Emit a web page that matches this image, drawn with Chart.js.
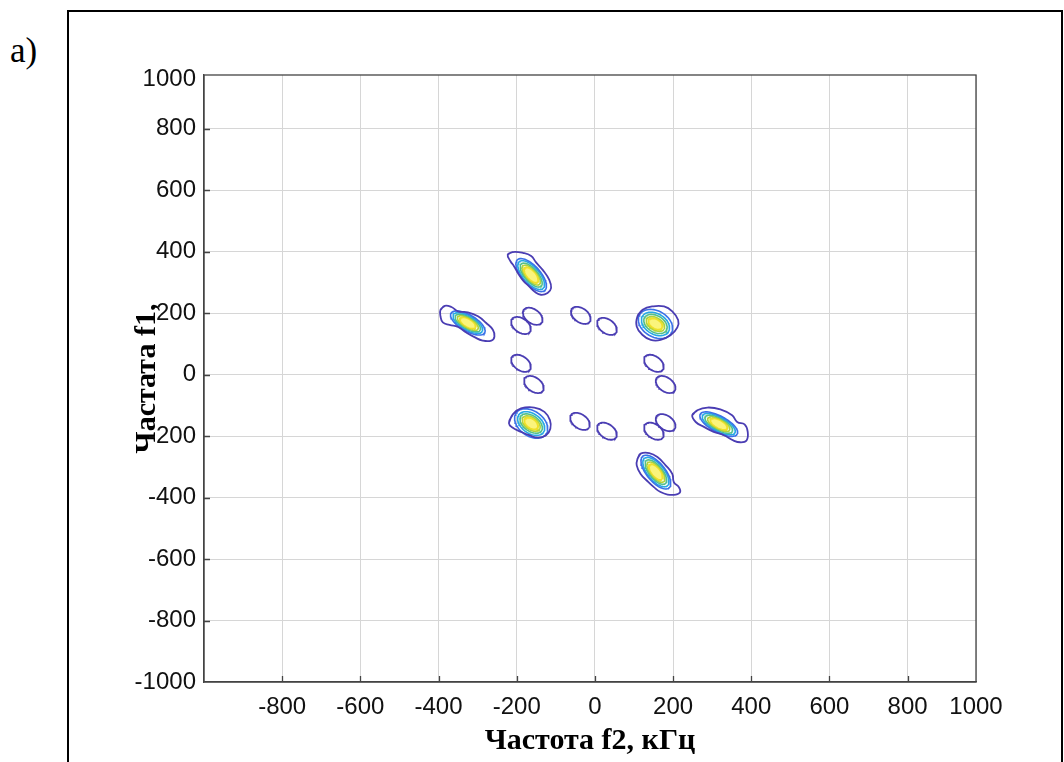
<!DOCTYPE html>
<html><head><meta charset="utf-8">
<script src="https://cdn.jsdelivr.net/npm/chart.js@4.4.1/dist/chart.umd.min.js"></script>
<style>
html,body{margin:0;padding:0;background:#fff;width:1064px;height:762px;overflow:hidden;}
#frame{position:absolute;left:67px;top:10px;width:996px;height:800px;border:2px solid #000;box-sizing:border-box;}
#lab{position:absolute;left:10px;top:33px;font:35px "Liberation Serif",serif;line-height:1;color:#000;}
#wrap{position:absolute;left:0;top:0;width:1064px;height:762px;}
</style></head><body>
<div id="frame"></div>
<div id="lab">a)</div>
<div id="wrap"><canvas id="c" width="1064" height="762"></canvas></div>
<script>
// ---- axes (kHz) ----
const xTicks = [-800,-600,-400,-200,0,200,400,600,800,975];
const xTickLabels = ['-800','-600','-400','-200','0','200','400','600','800','1000'];
const yTicks = [-1000,-800,-600,-400,-200,0,200,400,600,800,960];
const yTickLabels = ['-1000','-800','-600','-400','-200','0','200','400','600','800','1000'];
const xTitle = 'Частота f2, кГц';
const yTitle = 'Частата f1,';

// ---- outermost contour level, read as [f2, f1] vertices (kHz) ----
const outerLeft = [[-395,211],[-384,224],[-367,220],[-350,206],[-325,203],[-299,190],[-278,168],[-261,146],[-257,124],[-265,111],[-287,111],[-308,122],[-329,137],[-350,155],[-372,162],[-389,170],[-395,190]];
const outerTop = [[-223,391],[-210,399],[-184,396],[-163,386],[-151,366],[-133,340],[-117,309],[-112,282],[-121,266],[-138,260],[-153,269],[-169,288],[-184,307],[-197,331],[-207,353],[-216,369]];
const outerUpRight = [[109,190],[122,211],[147,222],[177,222],[198,206],[213,178],[211,154],[194,129],[168,113],[143,113],[122,129],[107,157]];
const outerLowLeft = [[-220,-157],[-210,-129],[-189,-110],[-155,-107],[-129,-121],[-115,-148],[-114,-176],[-125,-197],[-146,-205],[-168,-197],[-189,-186],[-210,-173]];
const outerRight = [[249,-132],[262,-116],[288,-107],[321,-113],[351,-132],[364,-154],[383,-162],[391,-186],[388,-214],[372,-220],[354,-214],[330,-197],[304,-186],[279,-170],[258,-154]];
const outerBottom = [[109,-274],[117,-257],[139,-255],[160,-268],[181,-295],[198,-323],[202,-350],[215,-366],[218,-382],[207,-390],[186,-390],[168,-382],[151,-366],[134,-346],[117,-323],[107,-295]];

// ---- small side-lobe loops (outer level): [f2c, f1c, majorTip dF2, dF1, minorTip dF2, dF1] ----
const smallLoops = [
  [-159,190,23.0,-20.6,-10.2,-18.7],[-189,160,23.0,-20.6,-10.2,-18.7],
  [-36,193,23.0,-20.6,-10.2,-18.7],[31,157,23.0,-20.6,-10.2,-18.7],
  [-189,37,23.0,-20.6,-10.2,-18.7],[-156,-32,23.0,-20.6,-10.2,-18.7],
  [151,37,23.0,-20.6,-10.2,-18.7],[181,-32,23.0,-20.6,-10.2,-18.7],
  [-38,-152,23.0,-20.6,-10.2,-18.7],[31,-184,23.0,-20.6,-10.2,-18.7],
  [151,-184,23.0,-20.6,-10.2,-18.7],[181,-156,23.0,-20.6,-10.2,-18.7]
];

// ---- inner contour levels of the six main peaks: [f2c, f1c, majorTip dF2, dF1, minorTip dF2, dF1] ----
const ring2 = [[-325,168,43.0,-31.8,-10.4,-22.9],[-163,324,35.0,-49.8,-17.4,-20.1],[155,165,40.6,-30.0,-16.5,-36.7],[-163,-159,38.3,-34.5,-18.1,-33.3],[317,-161,47.4,-32.3,-9.7,-23.3],[156,-317,33.7,-51.4,-17.9,-19.3]];
const ring3 = [[-325,168,36.9,-27.3,-9.0,-19.9],[-163,324,30.5,-43.3,-15.3,-17.7],[155,165,33.4,-24.7,-13.1,-29.1],[-163,-159,31.5,-28.4,-14.3,-26.0],[317,-161,41.4,-28.2,-8.4,-20.3],[156,-317,29.3,-44.6,-15.9,-17.1]];
const ring4 = [[-325,168,31.6,-23.3,-7.7,-17.2],[-163,324,25.3,-36.1,-12.5,-14.4],[155,165,27.9,-20.7,-10.6,-23.3],[-163,-159,26.4,-23.8,-11.2,-20.6],[317,-161,34.7,-23.7,-7.3,-17.5],[156,-317,24.3,-37.2,-12.9,-13.9]];
const ring5 = [[-325,168,26.0,-19.3,-6.4,-14.2],[-163,324,21.1,-29.9,-10.6,-12.2],[155,165,22.3,-16.5,-7.8,-17.5],[-163,-159,21.1,-18.9,-9.1,-16.5],[317,-161,27.8,-18.9,-6.0,-14.6],[156,-317,20.2,-30.8,-11.0,-11.8]];
const ring6 = [[-325,168,19.9,-14.8,-5.4,-11.9],[-163,324,16.4,-23.3,-8.6,-10.0],[155,165,17.3,-12.7,-6.1,-13.6],[-163,-159,16.3,-14.6,-7.1,-12.8],[317,-161,21.6,-14.8,-5.0,-12.1],[156,-317,15.7,-24.0,-8.9,-9.6]];

// ---- styling ----
const levelColors = ['#4a3db3','#3a72e8','#27a9e3','#55c08a','#b3d33a','#f0e02a'];
const coreFill = '#fbf47c';

function loopPoints(e){
  const [cx,cy,ux,uy,vx,vy] = e, pts=[];
  const n=64;
  for(let i=0;i<=n;i++){const t=2*Math.PI*i/n;
    pts.push({x:cx+ux*Math.cos(t)+vx*Math.sin(t), y:cy+uy*Math.cos(t)+vy*Math.sin(t)});}
  return pts;
}
function polyPoints(p){ const pts=p.map(q=>({x:q[0],y:q[1]})); pts.push({x:p[0][0],y:p[0][1]}); pts.push({x:p[1][0],y:p[1][1]}); return pts; }

const datasets=[];
[outerLeft,outerTop,outerUpRight,outerLowLeft,outerRight,outerBottom].forEach(p=>{
  datasets.push({data:polyPoints(p),borderColor:levelColors[0],borderWidth:1.8,tension:0.45,showLine:true,pointRadius:0,fill:false});
});
smallLoops.forEach(e=>datasets.push({data:loopPoints(e),borderColor:levelColors[0],borderWidth:1.8,tension:0,showLine:true,pointRadius:0,fill:false}));
[ring2,ring3,ring4,ring5].forEach((lvl,k)=>lvl.forEach(e=>datasets.push({data:loopPoints(e),borderColor:levelColors[k+1],borderWidth:1.6,tension:0,showLine:true,pointRadius:0,fill:false})));
ring6.forEach(e=>datasets.push({data:loopPoints(e),borderColor:levelColors[5],backgroundColor:coreFill,borderWidth:2,tension:0,showLine:true,pointRadius:0,fill:'shape'}));

const frameAndTicks = {
  id:'frameAndTicks',
  beforeDatasetsDraw(chart){
    const {ctx,chartArea:a,scales:{x,y}}=chart;
    ctx.save();
    ctx.strokeStyle='#444'; ctx.lineWidth=1.3;
    ctx.beginPath();
    xTicks.forEach(v=>{ if(v>=975) return; const px=Math.round(x.getPixelForValue(v))+0.5; ctx.moveTo(px,a.bottom); ctx.lineTo(px,a.bottom-6); });
    yTicks.forEach(v=>{ if(v<=-1000||v>=960) return; const py=Math.round(y.getPixelForValue(v))+0.5; ctx.moveTo(a.left,py); ctx.lineTo(a.left+6,py); });
    ctx.stroke();
    ctx.strokeRect(a.left,a.top,a.right-a.left,a.bottom-a.top);
    ctx.restore();
  }
};

const tickFont={family:'"Liberation Sans", Arial, sans-serif',size:24};
const titleFont={family:'"Liberation Serif", serif',size:30,weight:'bold'};
new Chart(document.getElementById('c'),{
  type:'scatter',
  data:{datasets},
  plugins:[frameAndTicks],
  options:{
    responsive:false, animation:false,
    layout:{padding:{left:0,top:75,right:88,bottom:0}},
    plugins:{legend:{display:false},tooltip:{enabled:false}},
    scales:{
      x:{type:'linear',min:-1000,max:975,
        afterBuildTicks(s){ s.ticks=xTicks.map(v=>({value:v})); },
        afterFit(s){ s.height=80; },
        ticks:{autoSkip:false,maxRotation:0,padding:11,color:'#111',font:tickFont,callback:(v,i)=>xTickLabels[i]},
        grid:{drawTicks:false,color:'#d6d6d6',lineWidth:1},
        border:{display:true,color:'#444',width:1.3},
        title:{display:true,text:xTitle,color:'#000',font:titleFont,padding:{top:0,bottom:3}}
      },
      y:{type:'linear',min:-1000,max:975,
        afterBuildTicks(s){ s.ticks=yTicks.map(v=>({value:v})); },
        afterFit(s){ s.width=204; },
        ticks:{autoSkip:false,padding:8,color:'#111',font:tickFont,callback:(v,i)=>yTickLabels[i]},
        grid:{drawTicks:false,lineWidth:1,color:c=>(c.tick&&c.tick.value>=960)?'rgba(0,0,0,0)':'#d6d6d6'},
        border:{display:true,color:'#444',width:1.3},
        title:{display:true,text:yTitle,color:'#000',font:titleFont,padding:{top:129,bottom:0}}
      }
    }
  }
});
</script>
</body></html>
